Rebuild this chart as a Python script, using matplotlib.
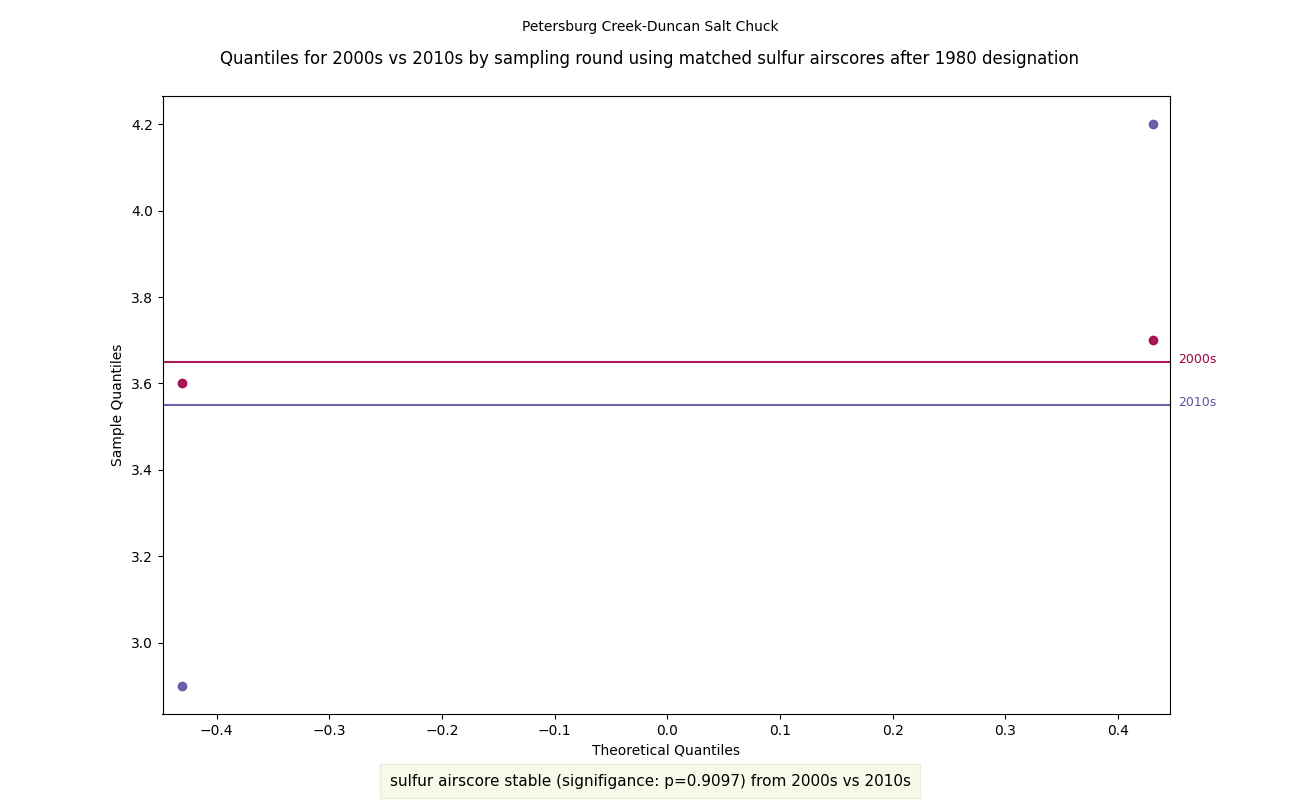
import matplotlib
matplotlib.use('Agg')
import matplotlib.pyplot as plt

# theoretical quantiles (n=2) and sample values for each decade
theo = [-0.4307, 0.4307]
q2000 = [3.6, 3.7]
q2010 = [2.9, 4.2]
labels = ['2000s', '2010s']
colors = ['#9e0142', '#5e4fa2']

fig, ax = plt.subplots(figsize=(13, 8.02), dpi=100)

for vals, lab, col in zip([q2000, q2010], labels, colors):
    ax.scatter(theo, vals, color=col, alpha=0.9, zorder=3)
    mean = sum(vals) / len(vals)
    ax.axhline(mean, color=col, alpha=0.9, lw=1.5)
    ax.annotate(lab, xy=(1.0, mean), xycoords=('axes fraction', 'data'),
                xytext=(6, 2), textcoords='offset points',
                color=col, fontsize=9, va='center', ha='left')

ax.set_xlim(-0.448, 0.446)
ax.set_xlabel('Theoretical Quantiles')
ax.set_ylabel('Sample Quantiles')
fig.text(0.5, 0.927,
         'Quantiles for 2000s vs 2010s by sampling round using matched sulfur airscores after 1980 designation',
         ha='center', va='center', fontsize=12)
fig.suptitle('Petersburg Creek-Duncan Salt Chuck', fontsize=10, y=0.975)

fig.text(0.5, 0.026, 'sulfur airscore stable (signifigance: p=0.9097) from 2000s vs 2010s',
         ha='center', va='center', fontsize=11,
         bbox=dict(facecolor='beige', edgecolor='#e4e4d0', alpha=0.6, pad=7))

plt.savefig('out.png')
